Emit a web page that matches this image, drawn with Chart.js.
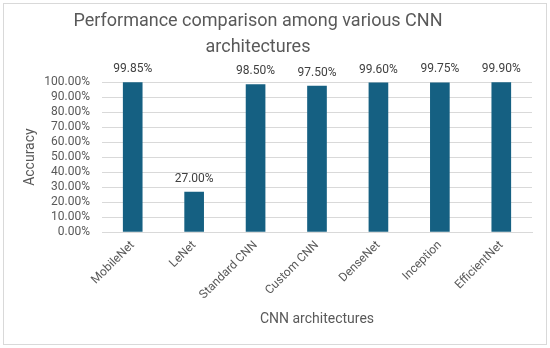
<!DOCTYPE html>
<html>
<head>
<meta charset="utf-8">
<script src="https://cdn.jsdelivr.net/npm/chart.js@4"></script>
<style>
  html, body { margin: 0; padding: 0; background: #fff; }
  #wrap { width: 550px; height: 348px; }
</style>
</head>
<body>
<div id="wrap"><canvas id="chart"></canvas></div>
<script>
const models = ['MobileNet', 'LeNet', 'Standard CNN', 'Custom CNN', 'DenseNet', 'Inception', 'EfficientNet'];
const accuracy = [99.85, 27.00, 98.50, 97.50, 99.60, 99.75, 99.90];
const yTicks = [0, 10, 20, 30, 40, 50, 60, 70, 80, 90, 100];
const titleLines = ['Performance comparison among various CNN', 'architectures'];

const grey = '#595959';
const fontFamily = 'Roboto, "Open Sans", sans-serif';

// white background, thin frame, and the two-line title (sits a bit left of centre in the original)
const frame = {
  id: 'frame',
  beforeDraw(chart) {
    const ctx = chart.ctx;
    ctx.save();
    ctx.fillStyle = '#fff';
    ctx.fillRect(0, 0, chart.width, chart.height);
    ctx.strokeStyle = '#d9d9d9';
    ctx.lineWidth = 1;
    ctx.strokeRect(3.5, 3.5, chart.width - 7, chart.height - 7);

    ctx.font = '18px ' + fontFamily;
    ctx.fillStyle = grey;
    ctx.textAlign = 'center';
    ctx.textBaseline = 'middle';
    ctx.fillText(titleLines[0], 258, 21);
    ctx.fillText(titleLines[1], 258, 47);
    ctx.restore();
  }
};

// value labels above each bar
const valueLabels = {
  id: 'valueLabels',
  afterDatasetsDraw(chart) {
    const ctx = chart.ctx;
    const meta = chart.getDatasetMeta(0);
    ctx.save();
    ctx.font = '12px ' + fontFamily;
    ctx.fillStyle = '#404040';
    ctx.textAlign = 'center';
    ctx.textBaseline = 'bottom';
    meta.data.forEach((bar, i) => {
      ctx.fillText(accuracy[i].toFixed(2) + '%', bar.x, bar.y - 7);
    });
    ctx.restore();
  }
};

var ctx = document.getElementById('chart').getContext('2d');
var myChart = new Chart(ctx, {
  type: 'bar',
  data: {
    labels: models,
    datasets: [{
      label: 'Accuracy',
      data: accuracy,
      backgroundColor: '#156082',
      barPercentage: 0.32,
      categoryPercentage: 1.0
    }]
  },
  options: {
    responsive: true,
    maintainAspectRatio: false,
    animation: false,
    layout: { padding: { top: 82, right: 18, bottom: 20, left: 22 } },
    plugins: {
      legend: { display: false },
      tooltip: { enabled: false },
      title: { display: false }
    },
    scales: {
      x: {
        grid: { display: false, drawTicks: false },
        border: { color: '#d9d9d9' },
        ticks: {
          color: grey,
          font: { family: fontFamily, size: 12 },
          minRotation: 45,
          maxRotation: 45,
          autoSkip: false,
          padding: 6
        },
        title: {
          display: true,
          text: 'CNN architectures',
          color: grey,
          font: { family: fontFamily, size: 14 },
          padding: { top: 3, bottom: 0 }
        }
      },
      y: {
        min: 0,
        max: 100,
        afterBuildTicks(axis) {
          axis.ticks = yTicks.map(v => ({ value: v }));
        },
        afterFit(axis) {
          axis.width = 80;
        },
        grid: { color: '#d9d9d9', drawTicks: false },
        border: { display: false },
        ticks: {
          color: grey,
          font: { family: fontFamily, size: 12 },
          padding: 12,
          autoSkip: false,
          callback: function (value) {
            return value.toFixed(2) + '%';
          }
        },
        title: {
          display: true,
          text: 'Accuracy',
          color: grey,
          font: { family: fontFamily, size: 14 },
          padding: { top: 0, bottom: 0 }
        }
      }
    }
  },
  plugins: [frame, valueLabels]
});
</script>
</body>
</html>
